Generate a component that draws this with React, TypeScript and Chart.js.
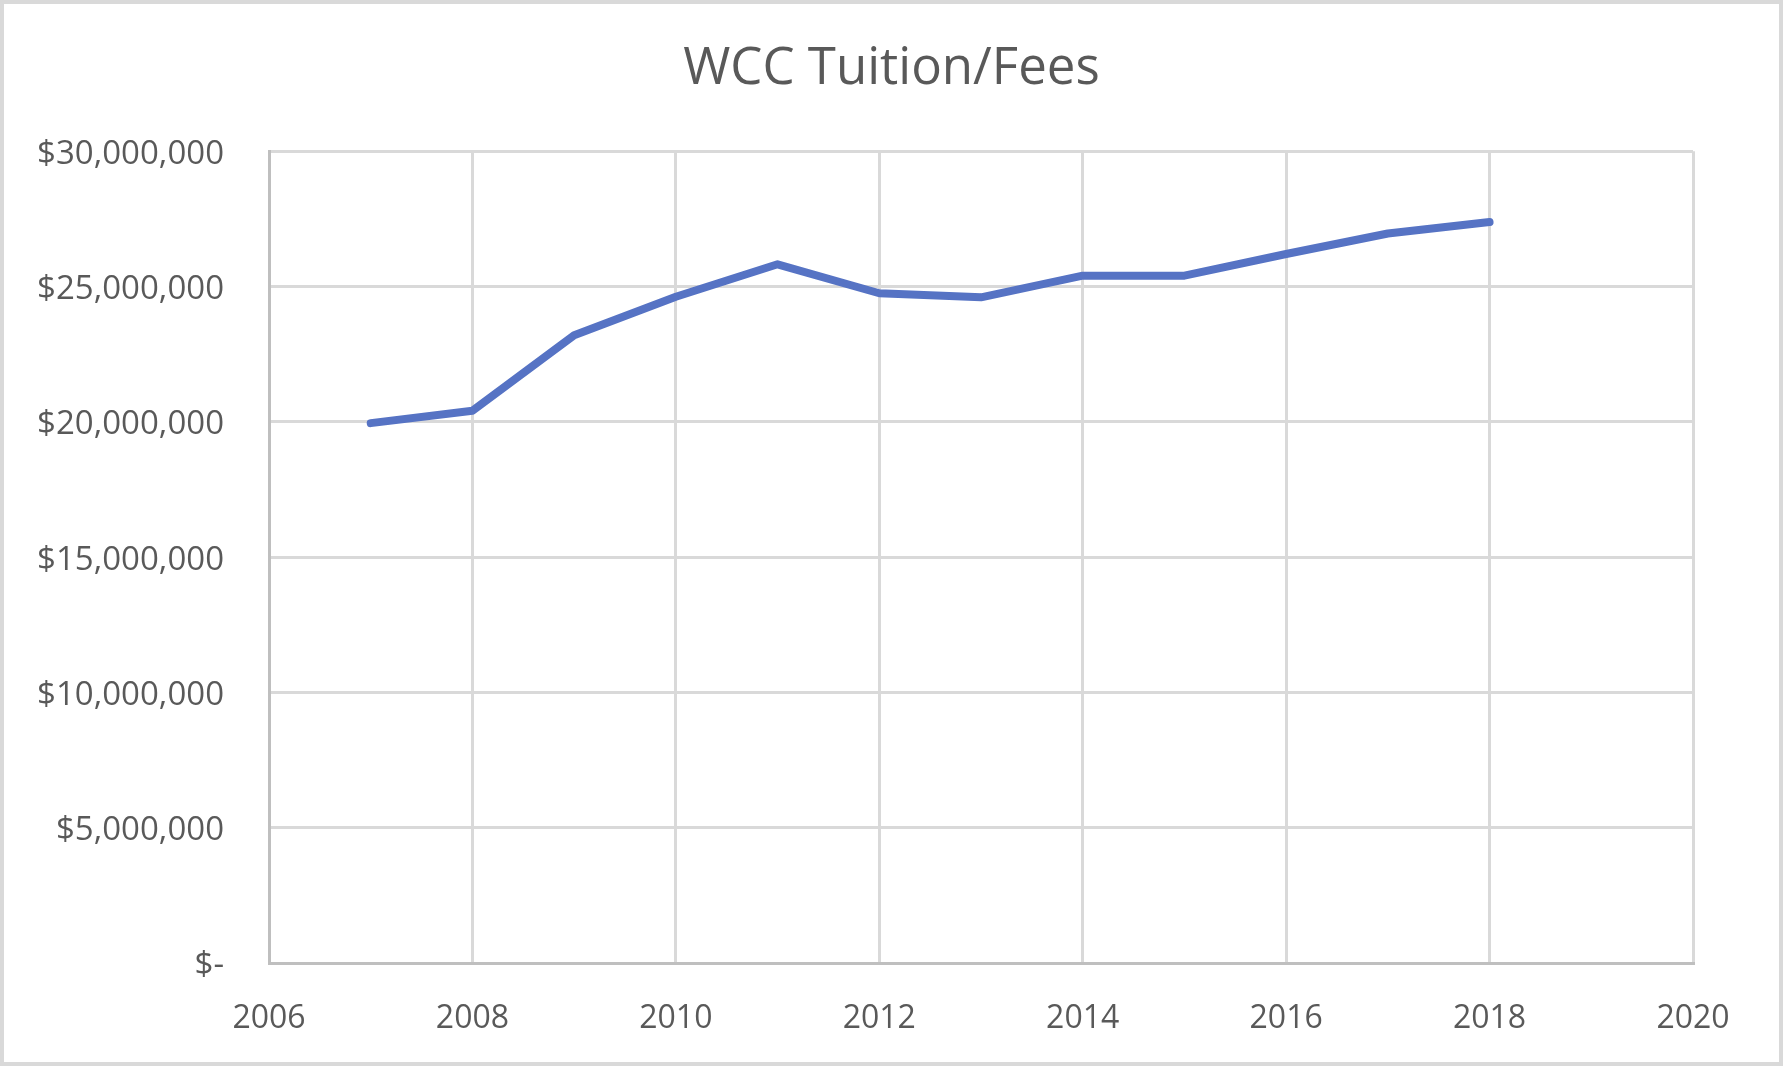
import React, { useEffect, useRef } from "react";
import { Chart, registerables } from "chart.js";

Chart.register(...registerables);

const chartTitle = "WCC Tuition/Fees";
const years = [2007, 2008, 2009, 2010, 2011, 2012, 2013, 2014, 2015, 2016, 2017, 2018];
const tuitionFees = [
  19950000, 20410000, 23200000, 24620000, 25820000, 24750000, 24600000, 25400000, 25400000,
  26200000, 26960000, 27380000,
];
const xMin = 2006;
const xMax = 2020;
const xStep = 2;
const yMin = 0;
const yMax = 30000000;
const yStep = 5000000;

const W = 1783;
const H = 1066;

const borderPlugin = {
  id: "outerBorder",
  beforeDraw(chart: any) {
    const ctx = chart.ctx;
    ctx.save();
    ctx.fillStyle = "#ffffff";
    ctx.fillRect(0, 0, chart.width, chart.height);
    ctx.restore();
  },
  afterDraw(chart: any) {
    const ctx = chart.ctx;
    ctx.save();
    ctx.strokeStyle = "#D9D9D9";
    ctx.lineWidth = 4;
    ctx.strokeRect(2, 2, chart.width - 4, chart.height - 4);
    ctx.restore();
  },
};

export default function App() {
  const ref = useRef<HTMLCanvasElement | null>(null);

  useEffect(() => {
    if (!ref.current) return;
    const font = "'Open Sans', 'Noto Sans', sans-serif";
    const chart = new Chart(ref.current, {
      type: "line",
      data: {
        datasets: [
          {
            label: chartTitle,
            data: years.map((y, i) => ({ x: y, y: tuitionFees[i] })),
            borderColor: "#5673C4",
            backgroundColor: "#5673C4",
            borderWidth: 8,
            borderCapStyle: "round",
            borderJoinStyle: "round",
            pointRadius: 0,
            pointHoverRadius: 0,
            tension: 0,
            fill: false,
          },
        ],
      },
      options: {
        animation: false,
        responsive: false,
        devicePixelRatio: 1,
        layout: { padding: 0 },
        plugins: {
          legend: { display: false },
          tooltip: { enabled: false },
          title: {
            display: true,
            text: chartTitle,
            color: "#595959",
            font: { family: font, size: 51, weight: "normal" },
            padding: { top: 39, bottom: 51 },
          },
        },
        scales: {
          x: {
            type: "linear",
            min: xMin,
            max: xMax,
            afterFit(scale: any) {
              scale.height = 103;
            },
            ticks: {
              stepSize: xStep,
              color: "#595959",
              font: { family: font, size: 32 },
              padding: 37,
              maxRotation: 0,
              callback: (v: any) => String(v),
            },
            grid: { color: "#D9D9D9", lineWidth: 3, drawTicks: false },
            border: { color: "#BFBFBF", width: 3 },
          },
          y: {
            type: "linear",
            min: yMin,
            max: yMax,
            afterFit(scale: any) {
              scale.width = 269;
            },
            ticks: {
              stepSize: yStep,
              color: "#595959",
              font: { family: font, size: 33 },
              padding: 45,
              labelOffset: 3,
              callback: (v: any) => (Number(v) === 0 ? "$-" : "$" + Number(v).toLocaleString("en-US")),
            },
            grid: { color: "#D9D9D9", lineWidth: 3, drawTicks: false },
            border: { color: "#BFBFBF", width: 3 },
          },
          yRight: {
            type: "linear",
            position: "right",
            min: yMin,
            max: yMax,
            afterFit(scale: any) {
              scale.width = 90;
            },
            ticks: { display: false },
            grid: { display: false, drawOnChartArea: false },
            border: { display: false },
          },
        },
      },
      plugins: [borderPlugin],
    });
    return () => chart.destroy();
  }, []);

  return (
    <div style={{ position: "fixed", left: 0, top: 0, width: W, height: H, background: "#fff" }}>
      <canvas ref={ref} width={W} height={H} style={{ width: W, height: H, display: "block" }} />
    </div>
  );
}
